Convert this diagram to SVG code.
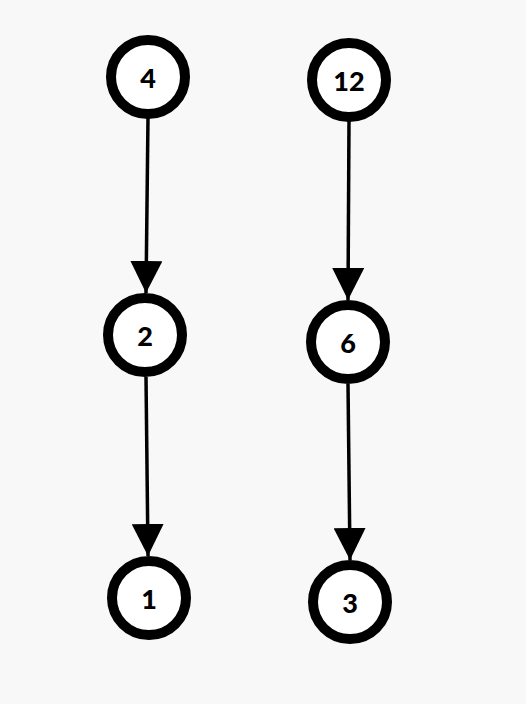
<svg xmlns="http://www.w3.org/2000/svg" width="526" height="704" viewBox="0 0 526 704">
<style>
.n circle{fill:#fff;stroke:#000;stroke-width:10}
.n text{font-family:Lato,"DejaVu Sans",sans-serif;font-weight:900;font-size:27px;text-anchor:middle;dominant-baseline:central;fill:#000}
.e line{stroke:#000;stroke-width:3.5}
</style>
<defs>
<marker id="ah" viewBox="0 0 10 10" refX="10" refY="5" markerUnits="userSpaceOnUse" markerWidth="32" markerHeight="32" orient="auto">
<path d="M0,0 L10,5 L0,10 Z" fill="#000"/>
</marker>
</defs>
<rect width="526" height="704" fill="#f8f8f8"/>
<g id="connectors" class="e">
<line x1="148" y1="117" x2="146" y2="293" marker-end="url(#ah)"/>
<line x1="146" y1="377" x2="148" y2="556" marker-end="url(#ah)"/>
<line x1="349" y1="120" x2="348" y2="300" marker-end="url(#ah)"/>
<line x1="348" y1="384" x2="350" y2="560" marker-end="url(#ah)"/>
</g>
<g id="n4" class="n"><circle cx="148" cy="77" r="37"/><text x="148" y="77">4</text></g>
<g id="n2" class="n"><circle cx="145" cy="335" r="37"/><text x="145" y="335">2</text></g>
<g id="n1" class="n"><circle cx="149" cy="598" r="37"/><text x="149" y="598">1</text></g>
<g id="n12" class="n"><circle cx="349" cy="80" r="37"/><text x="349" y="80">12</text></g>
<g id="n6" class="n"><circle cx="348" cy="342" r="37"/><text x="348" y="342">6</text></g>
<g id="n3" class="n"><circle cx="350" cy="602" r="37"/><text x="350" y="602">3</text></g>
</svg>
